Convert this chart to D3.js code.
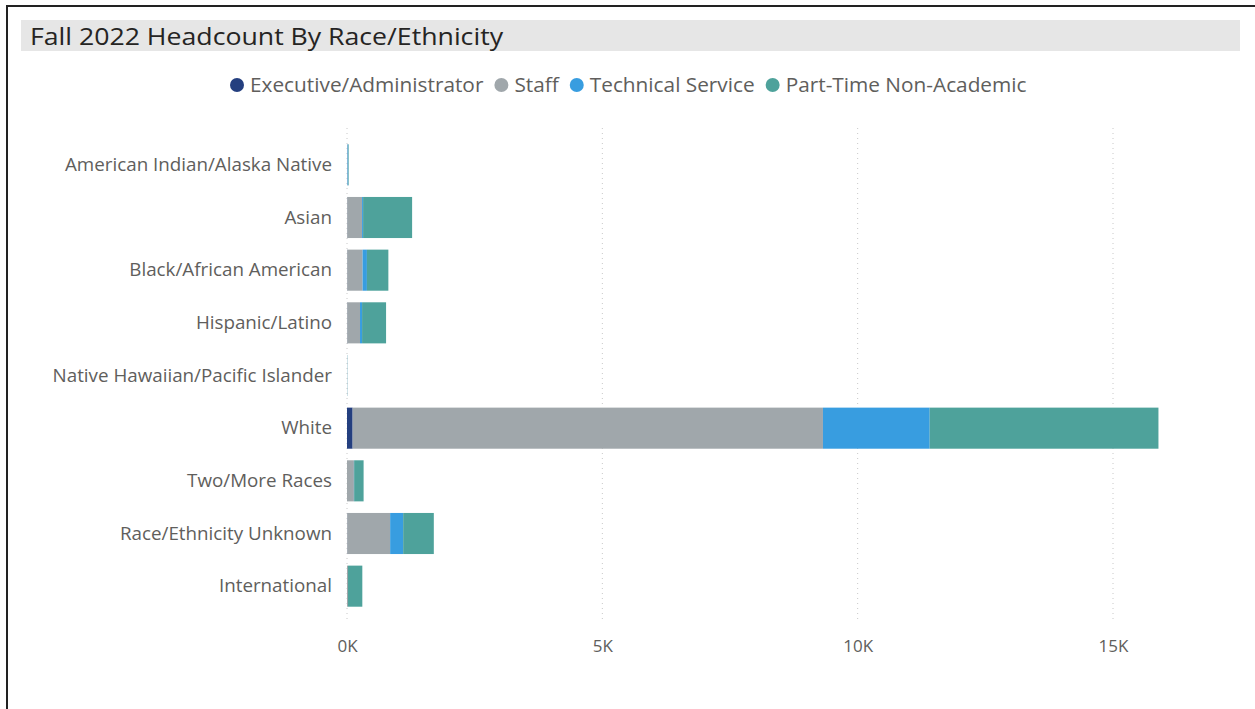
<!DOCTYPE html>
<html>
<head>
    <script src="https://d3js.org/d3.v7.min.js"></script>
    <style>
        body { margin: 0; background: #fff; }
        text { font-family: "Open Sans", sans-serif; }
    </style>
</head>
<body>
<div id="chart"></div>
<script>
    // data
    var categories = ["American Indian/Alaska Native", "Asian", "Black/African American", "Hispanic/Latino",
        "Native Hawaiian/Pacific Islander", "White", "Two/More Races", "Race/Ethnicity Unknown", "International"];
    var seriesNames = ["Executive/Administrator", "Staff", "Technical Service", "Part-Time Non-Academic"];
    var execVals = [0, 5, 5, 5, 0, 110, 0, 5, 0];
    var staffVals = [10, 290, 300, 250, 3, 9210, 135, 840, 20];
    var techVals = [15, 20, 85, 40, 2, 2090, 5, 255, 0];
    var ptVals = [10, 960, 420, 470, 2, 4480, 185, 600, 280];
    var xTicks = [0, 5000, 10000, 15000];
    var colors = ["#243F7F", "#A0A7AB", "#389DE0", "#4EA29B"];

    var W = 1255, H = 709;
    var svg = d3.select("#chart").append("svg")
        .attr("width", W)
        .attr("height", H);

    // frame
    svg.append("line").attr("x1", 6).attr("x2", W).attr("y1", 6).attr("y2", 6)
        .attr("stroke", "#222").attr("stroke-width", 2);
    svg.append("line").attr("x1", 7).attr("x2", 7).attr("y1", 6).attr("y2", H)
        .attr("stroke", "#222").attr("stroke-width", 2);

    // title bar
    svg.append("rect").attr("x", 21).attr("y", 20).attr("width", 1219).attr("height", 31)
        .attr("fill", "#E6E6E6");
    svg.append("text").attr("x", 30).attr("y", 45)
        .style("font-size", "24px").style("font-weight", 500).style("fill", "#252423")
        .attr("textLength", 473).attr("lengthAdjust", "spacingAndGlyphs")
        .text("Fall 2022 Headcount By Race/Ethnicity");

    // legend
    var legend = svg.append("g").attr("transform", "translate(230,85)");
    var lx = 0;
    seriesNames.forEach(function (name, i) {
        var g = legend.append("g").attr("transform", "translate(" + lx + ",0)");
        g.append("circle").attr("cx", 7).attr("cy", 0).attr("r", 7).attr("fill", colors[i]);
        var t = g.append("text").attr("x", 20).attr("y", 0).attr("dy", "0.35em")
            .style("font-size", "20.8px").style("fill", "#605E5C").text(name);
        lx += 20 + t.node().getComputedTextLength() + 11;
    });

    var x = d3.scaleLinear()
        .domain([0, 15000])
        .range([347, 1113]);

    var y = d3.scaleBand()
        .domain(categories)
        .range([138.5, 612.5])
        .paddingInner(0.22)
        .paddingOuter(0.11);

    // grid
    svg.selectAll("line.grid")
        .data(xTicks)
        .enter().append("line")
        .attr("class", "grid")
        .attr("x1", function (d) { return x(d); })
        .attr("x2", function (d) { return x(d); })
        .attr("y1", 128).attr("y2", 622)
        .attr("stroke", "#C8C8C8")
        .attr("stroke-width", 1)
        .attr("stroke-dasharray", "1,4");

    var rows = categories.map(function (c, i) {
        return { cat: c, vals: [execVals[i], staffVals[i], techVals[i], ptVals[i]] };
    });

    var stack = d3.stack().keys([0, 1, 2, 3]).value(function (d, k) { return d.vals[k]; });
    var layers = stack(rows);

    svg.selectAll("g.layer")
        .data(layers)
        .enter().append("g")
        .attr("class", "layer")
        .attr("fill", function (d, i) { return colors[i]; })
        .selectAll("rect")
        .data(function (d) { return d; })
        .enter().append("rect")
        .attr("x", function (d) { return x(d[0]); })
        .attr("y", function (d) { return y(d.data.cat); })
        .attr("width", function (d) { return Math.max(0, x(d[1]) - x(d[0])); })
        .attr("height", y.bandwidth());

    // category labels
    var yAxis = d3.axisLeft(y).tickSize(0).tickPadding(15);
    var yg = svg.append("g")
        .attr("transform", "translate(347,0)")
        .call(yAxis);
    yg.select(".domain").remove();
    yg.selectAll("text").style("font-size", "18.8px").style("fill", "#605E5C")
        .style("font-family", "'Open Sans', sans-serif");

    // x axis labels
    var xAxis = d3.axisBottom(x).tickValues(xTicks).tickSize(0).tickPadding(0)
        .tickFormat(function (d) { return (d / 1000) + "K"; });
    var xg = svg.append("g")
        .attr("transform", "translate(0,640)")
        .call(xAxis);
    xg.select(".domain").remove();
    xg.selectAll("text").style("font-size", "17px").style("fill", "#605E5C")
        .style("font-family", "'Open Sans', sans-serif");
</script>
</body>
</html>
